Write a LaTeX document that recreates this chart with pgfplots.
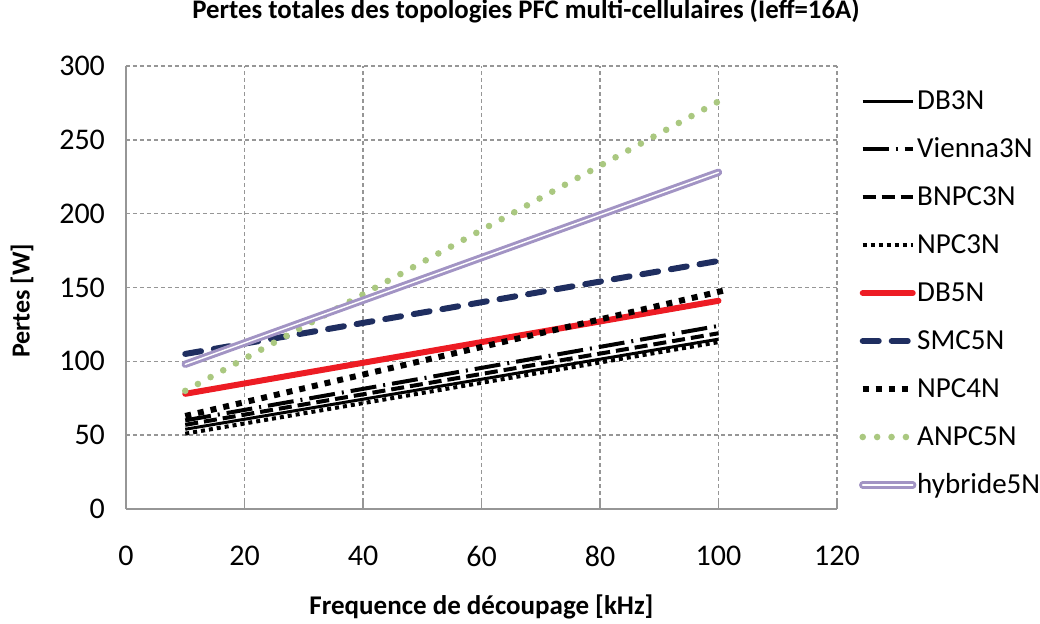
\documentclass[border=0pt]{standalone}
\usepackage{fontspec}
\setmainfont{Carlito}
\usepackage{pgfplots}
\pgfplotsset{compat=1.18}
\definecolor{cred}{RGB}{237,28,36}
\definecolor{cnavy}{RGB}{31,46,96}
\definecolor{cgreen}{RGB}{170,200,128}
\definecolor{clav}{RGB}{162,148,196}
\definecolor{cgrid}{RGB}{150,150,150}
\begin{document}
\begin{tikzpicture}
\path[use as bounding box] (-63pt,-57.5pt) rectangle (457pt,254.5pt);
\begin{axis}[
  at={(0,0)}, anchor=south west,
  scale only axis,
  width=355.5pt, height=221.5pt,
  xmin=0, xmax=120, ymin=0, ymax=300,
  xtick={0,20,...,120}, ytick={0,50,...,300},
  axis lines*=left,
  axis line style={-, cgrid, line width=1pt},
  grid=major,
  major grid style={cgrid, line width=0.7pt, dash pattern=on 2pt off 1.5pt},
  tick align=inside,
  major tick length=3.5pt,
  tick style={cgrid, line width=0.6pt},
  ytick style={draw=none},
  /pgf/number format/assume math mode=true,
  ticklabel style={font=\fontsize{15}{18}\selectfont},
  xticklabel style={yshift=-15pt},
  yticklabel style={xshift=-7pt},
  title={\textbf{Pertes totales des topologies PFC multi-cellulaires (Ieff=16A)}},
  title style={at={(axis description cs:0.5626,1.097)}, anchor=center, font=\fontsize{13.4}{15}\selectfont},
  xlabel={\textbf{Frequence de découpage [kHz]}},
  xlabel style={at={(axis description cs:0.5,-0.221)}, anchor=center, font=\fontsize{13.5}{16}\selectfont},
  ylabel={\textbf{Pertes [W]}},
  ylabel style={at={(axis description cs:-0.1463,0.47)}, anchor=center, font=\fontsize{13}{15}\selectfont},
  legend style={at={(axis description cs:1.022,0.962)}, anchor=north west, draw=none, fill=none,
    font=\fontsize{14.5}{17}\selectfont, row sep=10.2pt,
    nodes={inner sep=0.4pt, text height=10.5pt, text depth=2.5pt}},
  legend cell align=left,
  legend image code/.code={\draw[#1] (0pt,0pt) -- (25pt,0pt);},
]
\addplot[black, line width=1.5pt] coordinates {(10,54) (100,115)};
\addlegendentry{DB3N}
\addplot[black, line width=2pt, dash pattern=on 13pt off 3.5pt on 1pt off 3.5pt] coordinates {(10,60) (100,124)};
\addlegendentry{Vienna3N}
\addplot[black, line width=2pt, dash pattern=on 6.5pt off 3pt] coordinates {(10,57) (100,119)};
\addlegendentry{BNPC3N}
\addplot[black, line width=2pt, dash pattern=on 2pt off 2pt] coordinates {(10,51) (100,113)};
\addlegendentry{NPC3N}
\addplot[cred, line width=3pt, line cap=round] coordinates {(10,78) (100,141)};
\addlegendentry{DB5N}
\addplot[cnavy, line width=3pt, line cap=round, dash pattern=on 8pt off 6.5pt] coordinates {(10,105) (100,168)};
\addlegendentry{SMC5N}
\addplot[black, line width=3pt, dash pattern=on 3pt off 3.5pt] coordinates {(10,63) (101,148)};
\addlegendentry{NPC4N}
\addplot[cgreen, line width=3.3pt, line cap=round, dash pattern=on 0pt off 7.2pt] coordinates {(10,80) (100,276)};
\addlegendentry{ANPC5N}
\addplot[clav, line width=1.5pt, double=white, double distance=0.7pt, line cap=round] coordinates {(10,98) (100,228)};
\addlegendentry{hybride5N}
\end{axis}
\end{tikzpicture}
\end{document}
